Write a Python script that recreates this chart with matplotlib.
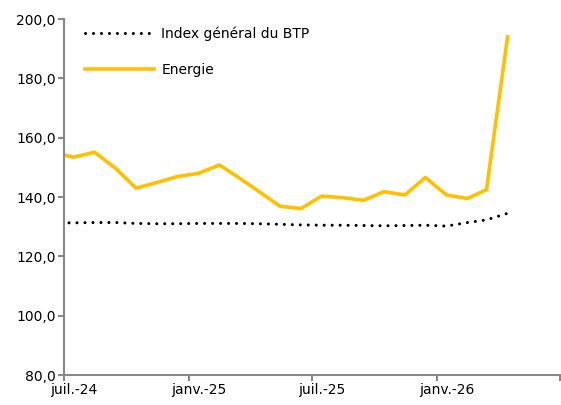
import numpy as np
import pandas as pd
import matplotlib
matplotlib.use("Agg")
import matplotlib.pyplot as plt
from matplotlib.ticker import FuncFormatter

# monthly points (mid-month), juin-24 .. avr.-26
dates = pd.date_range("2024-06-01", periods=23, freq="MS") + pd.Timedelta(days=14)
btp = [131.3, 131.3, 131.4, 131.4, 131.1, 131.0, 131.0, 131.1, 131.1, 131.1, 131.0, 130.8,
       130.6, 130.5, 130.5, 130.4, 130.3, 130.4, 130.5, 130.2, 131.4, 132.3, 134.5]
energie = [155.1, 153.4, 155.1, 149.7, 143.0, 144.9, 146.9, 148.0, 150.8, 146.6, 141.7, 136.9,
           136.1, 140.3, 139.8, 138.9, 141.8, 140.7, 146.6, 140.7, 139.5, 142.5, 194.0]

tick_dates = pd.to_datetime(["2024-07-01", "2025-01-01", "2025-07-01", "2026-01-01", "2026-07-01"])
label_dates = pd.to_datetime(["2024-07-16", "2025-01-16", "2025-07-16", "2026-01-16"])
tick_labels = ["juil.-24", "janv.-25", "juil.-25", "janv.-26"]

plt.rcParams['font.family'] = ['DejaVu Sans']
fig = plt.figure(figsize=(5.61, 4.05), dpi=100)
ax = fig.add_axes([0.114, 0.074, 0.884, 0.879])

ax.plot(dates, btp, color="black", lw=2.2, linestyle=(0, (0.01, 2.6)),
        dash_capstyle="round", label="Index général du BTP", zorder=3)
ax.plot(dates, energie, color="#FFC000", lw=2.6, label="Energie", zorder=2)

ax.set_xlim(tick_dates[0], tick_dates[-1])
ax.set_ylim(80, 200)
ax.set_yticks(np.arange(80, 201, 20))
ax.yaxis.set_major_formatter(FuncFormatter(lambda v, p: f"{v:.1f}".replace(".", ",")))

ax.set_xticks(tick_dates)
ax.set_xticklabels([""] * len(tick_dates))
ax.set_xticks(label_dates, minor=True)
ax.set_xticklabels(tick_labels, minor=True)

for s in ["top", "right"]:
    ax.spines[s].set_visible(False)
for s in ["left", "bottom"]:
    ax.spines[s].set_color("#888888")
    ax.spines[s].set_linewidth(1.5)
ax.tick_params(axis="both", which="major", color="#888888", width=1.5, length=4,
               labelsize=10, labelcolor="black")
ax.tick_params(axis="y", pad=2)
ax.tick_params(axis="x", which="minor", length=0, pad=6, labelsize=10)

ax.legend(loc="upper left", bbox_to_anchor=(0.017, 1.015), frameon=False, fontsize=10,
          handlelength=5.0, labelspacing=1.6, handletextpad=0.5)

fig.savefig("out.png", dpi=100)
